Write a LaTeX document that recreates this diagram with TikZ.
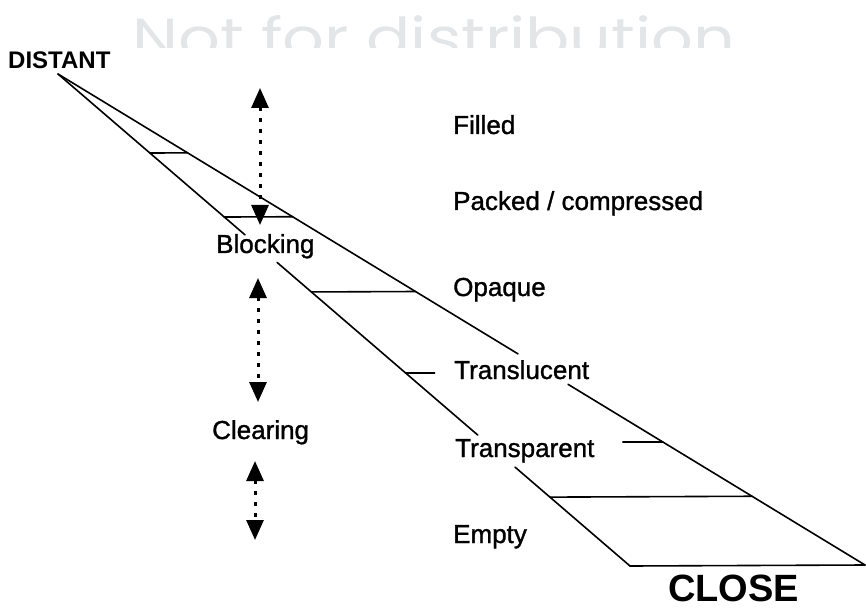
\documentclass[tikz,border=0pt]{standalone}
\usepackage{fontspec}
\setmainfont{Liberation Sans}
\newfontfamily\lblfont{Liberation Sans}[FakeBold=1.2]
\newfontfamily\wmfont{Poppins}
\usetikzlibrary{arrows.meta,calc}
\definecolor{wm}{RGB}{228,229,231}
\begin{document}
\begin{tikzpicture}[x=1pt,y=-1pt,
  edge/.style={line width=1.6pt, line cap=round},
  lbl/.style={anchor=base west, inner sep=0pt, font=\lblfont\fontsize{26}{30}\selectfont},
  dotarrow/.style={line width=3pt, dash pattern=on 4pt off 7pt,
    {Triangle[length=20pt,width=17pt]}-{Triangle[length=20pt,width=17pt]}},
]
\useasboundingbox (0,0) rectangle (866,609);

% watermark
\begin{scope}
  \clip (0,0) rectangle (866,48);
  \node[anchor=base west, inner sep=0pt, text=wm] (wmark) at (132,58)
    {\resizebox{603pt}{42pt}{\wmfont Not for distribution}};
\end{scope}

% main geometry
\coordinate (A) at (58,74);
\coordinate (R) at (865,565);
\coordinate (L) at (630,566);

% upper line with gap for "Translucent"
\draw[edge] (A) -- ($(A)!0.570!(R)$);
\draw[edge] ($(A)!0.632!(R)$) -- (R);
% lower line with gaps for labels
\draw[edge] (A) -- ($(A)!0.327!(L)$);
\draw[edge] ($(A)!0.383!(L)$) -- ($(A)!0.734!(L)$);
\draw[edge] ($(A)!0.799!(L)$) -- (L);
% bottom
\draw[edge] (L) -- (R);

% cross lines
\draw[edge] ($(A)!0.1606!(L)$) -- ($(A)!0.1606!(R)$);
\draw[edge] ($(A)!0.2907!(L)$) -- ($(A)!0.2907!(R)$);
\draw[edge] ($(A)!0.443!(L)$) -- ($(A)!0.443!(R)$);
\draw[edge] ($(A)!0.86!(L)$) -- ($(A)!0.86!(R)$);

% ticks
\coordinate (t1) at ($(A)!0.6077!(L)$);
\coordinate (t1e) at ($(t1)+(29,0)$);
\draw[edge] (t1) -- (t1e);
\coordinate (t2) at ($(A)!0.7495!(R)$);
\coordinate (t2e) at ($(t2)+(-40,0)$);
\draw[edge] (t2) -- (t2e);

% labels
\node[anchor=base west, inner sep=0pt, font=\bfseries\fontsize{24}{28}\selectfont] (distant) at (8,69) {DISTANT};
\node[anchor=base west, inner sep=0pt, font=\bfseries\fontsize{38}{42}\selectfont] (close) at (668,601) {CLOSE};
\node[lbl] (filled) at (453,134) {Filled};
\node[lbl] (packed) at (453,210) {Packed / compressed};
\node[lbl] (opaque) at (453,296) {Opaque};
\node[lbl] (transl) at (454,379) {Translucent};
\node[lbl] (transp) at (455,457) {Transparent};
\node[lbl] (empty) at (453,543) {Empty};
\node[lbl] (blocking) at (216,253) {Blocking};
\node[lbl] (clearing) at (212,439) {Clearing};

% dotted double arrows
\coordinate (a1t) at (260,88);
\coordinate (a1b) at (260,225);
\coordinate (a2t) at (258,278);
\coordinate (a2b) at (258,402);
\coordinate (a3t) at (255,461);
\coordinate (a3b) at (255,540);
\draw[dotarrow] (a1t) -- (a1b);
\draw[dotarrow] (a2t) -- (a2b);
\draw[dotarrow] (a3t) -- (a3b);
\end{tikzpicture}
\end{document}
